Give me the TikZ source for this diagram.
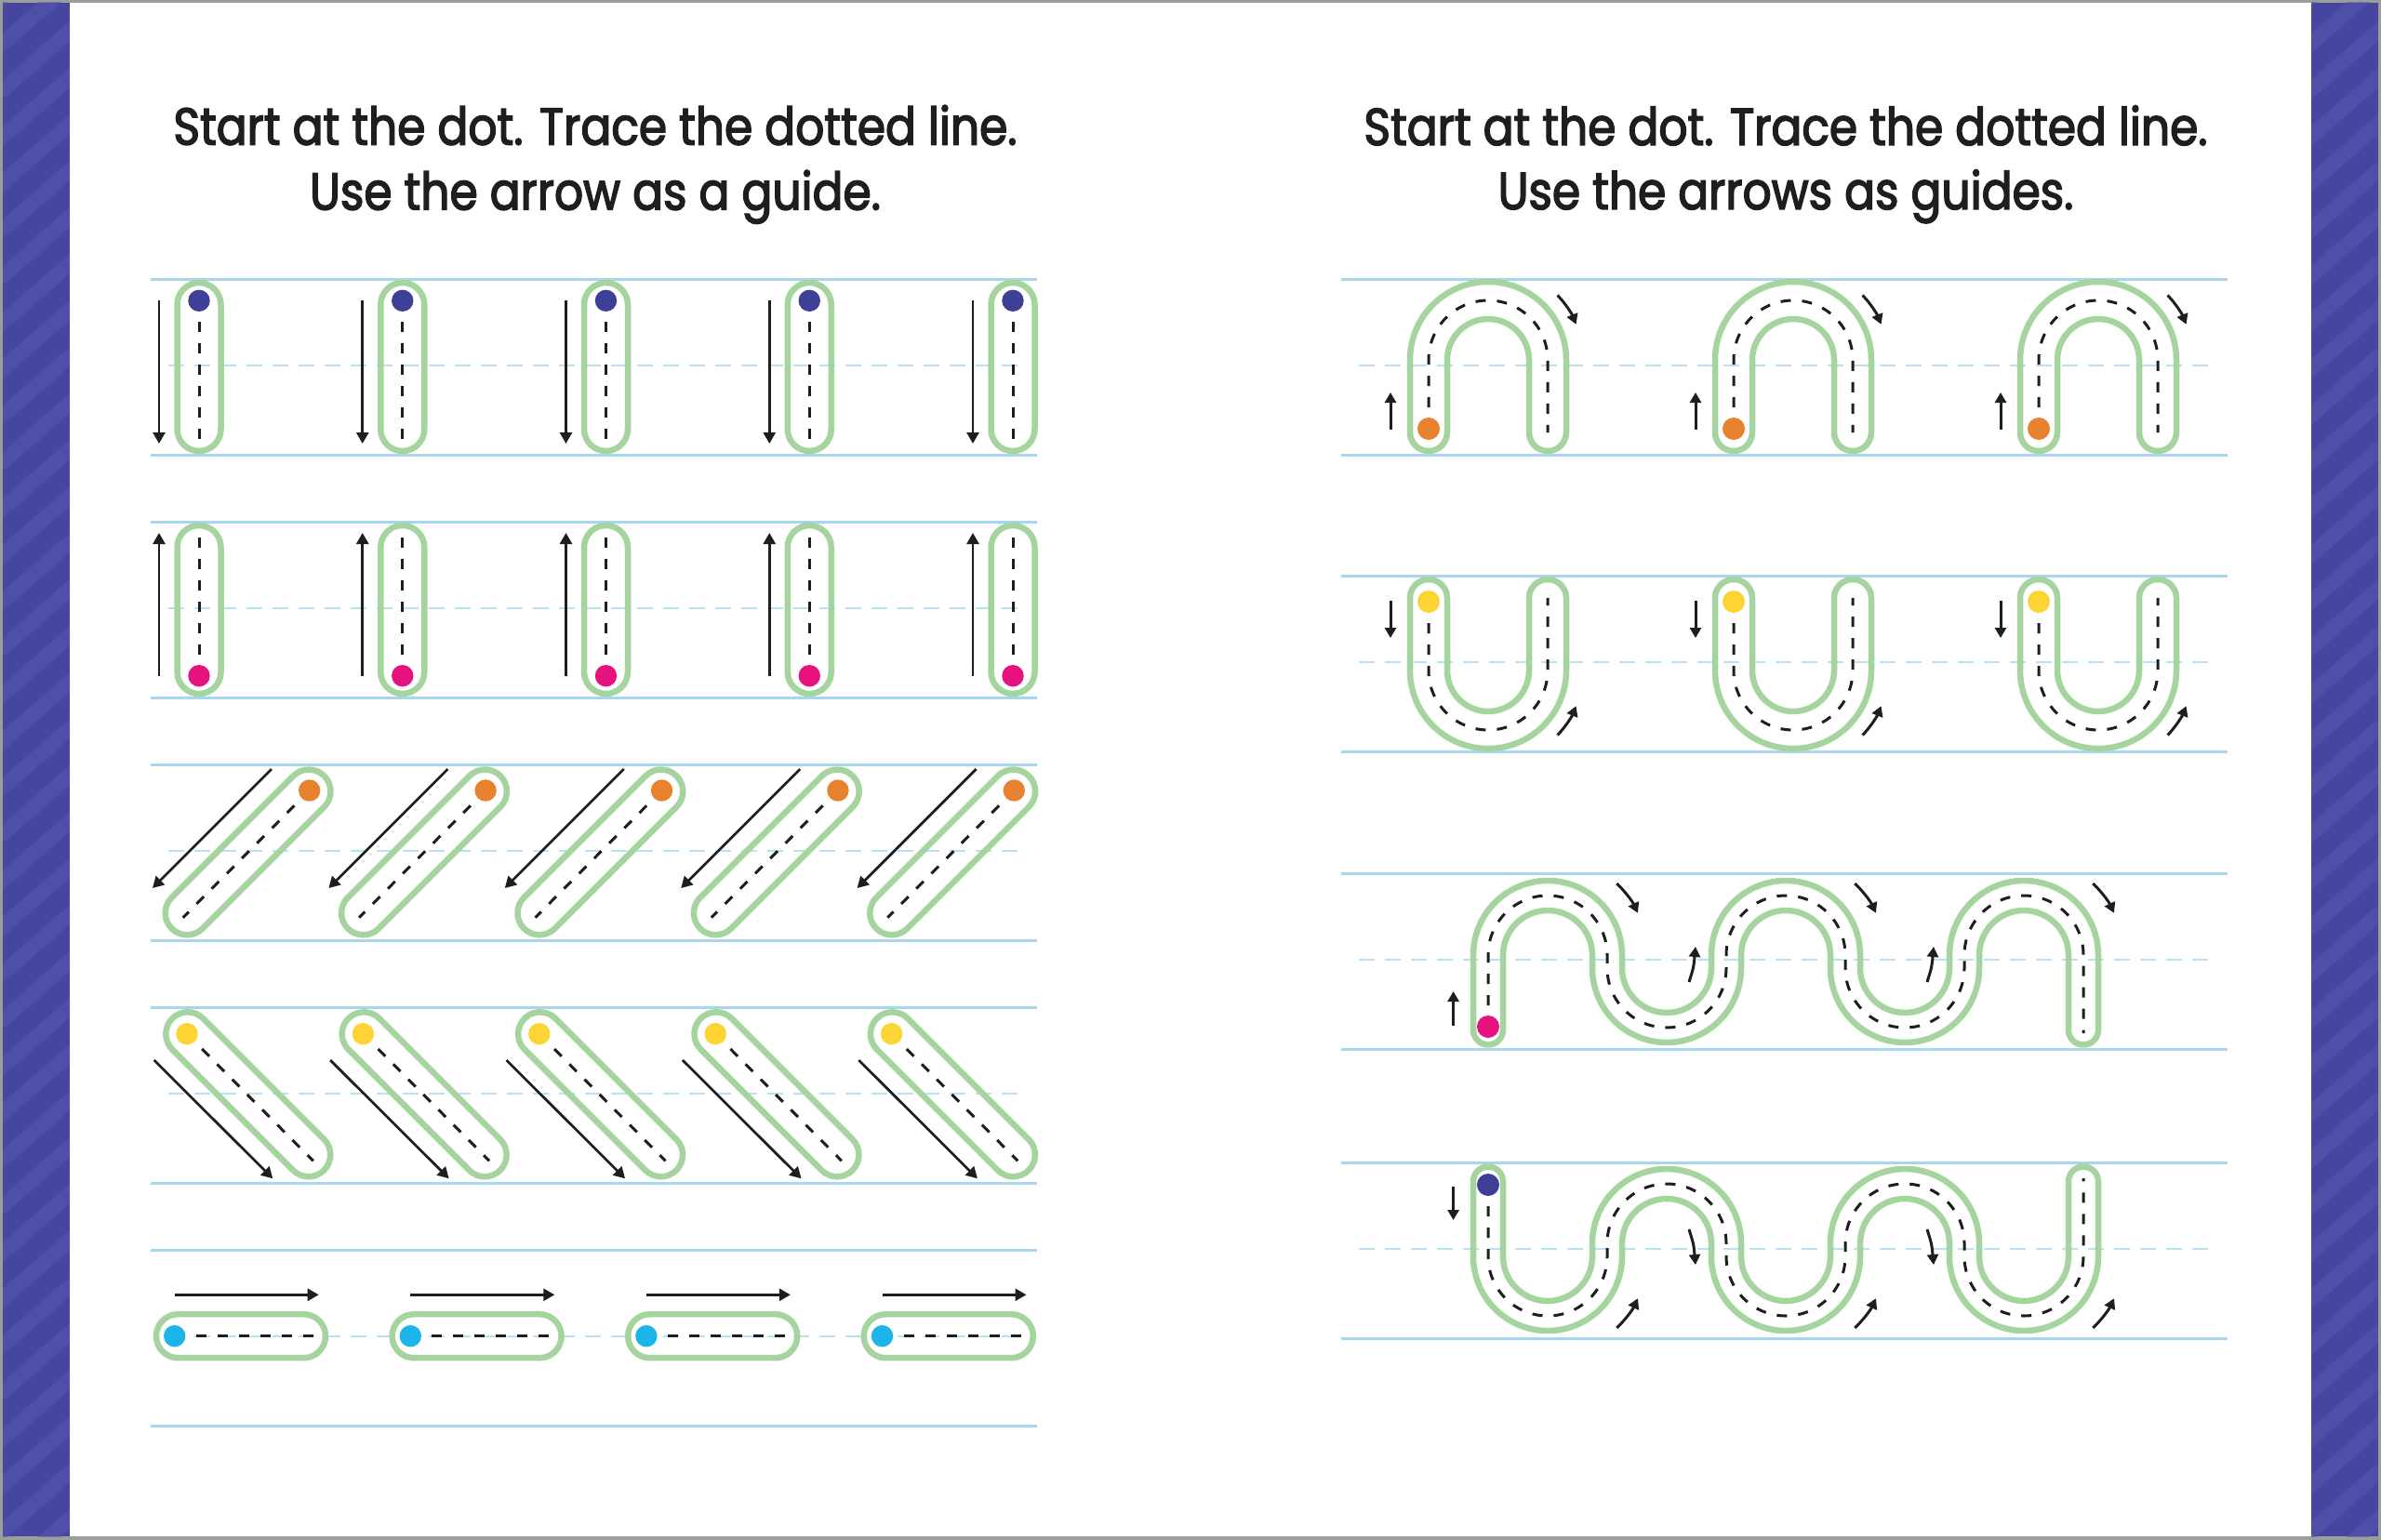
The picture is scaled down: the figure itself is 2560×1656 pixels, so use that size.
\documentclass[tikz,border=0pt]{standalone}
\usepackage{fontspec}
\setmainfont{Poppins}[FakeStretch=0.87,FakeBold=2.6]
\usetikzlibrary{arrows.meta}
\definecolor{rulecol}{HTML}{A6D7EF}
\definecolor{midcol}{HTML}{B8E1F1}
\definecolor{tubecol}{HTML}{A6D49F}
\definecolor{navydot}{HTML}{3E3F97}
\definecolor{magdot}{HTML}{E6137F}
\definecolor{orgdot}{HTML}{E9822F}
\definecolor{yeldot}{HTML}{FCD535}
\definecolor{cyandot}{HTML}{1BB5EA}
\definecolor{purp}{HTML}{4646A0}
\definecolor{purpband}{HTML}{5858B0}
\definecolor{framecol}{HTML}{9C9E9B}
\definecolor{inkcol}{HTML}{1E1E1E}
\tikzset{
  rule/.style={line width=3pt, rulecol},
  midrule/.style={line width=1.6pt, midcol, dash pattern=on 17pt off 11pt},
  tube/.style={line width=6.5pt, tubecol, line join=round},
  trace/.style={line width=3pt, inkcol, dash pattern=on 11pt off 12pt},
  bigarr/.style={line width=2.7pt, inkcol, -{Triangle[length=12pt,width=13pt]}},
  smallarr/.style={line width=3pt, inkcol, -{Triangle[length=11pt,width=12pt]}},
  titletext/.style={font=\fontsize{56}{60}\selectfont, text=inkcol, inner sep=0pt, anchor=base},
  band/.style={line width=16pt, purpband, opacity=0.55}
}
\newcommand{\capsulepath}[4]{%
  \begin{scope}[shift={#1}, rotate=#2]
    \draw[tube] (0,-#4) -- (#3,-#4) arc[start angle=-90, end angle=90, radius=#4]
      -- (0,#4) arc[start angle=90, end angle=270, radius=#4] -- cycle;
  \end{scope}}
% n-shaped tube with left leg at x=#1
\newcommand{\archshape}[2]{%
  \begin{scope}[shift={(#1,0)}]
    \draw[tube] (-20,465) -- (-20,387) arc[start angle=180, end angle=360, radius=84]
      -- (148,465) arc[start angle=0, end angle=180, radius=20]
      -- (108,387) arc[start angle=0, end angle=-180, radius=44]
      -- (20,465) arc[start angle=0, end angle=180, radius=20] -- cycle;
    \draw[trace] (0,461) -- (0,387) arc[start angle=180, end angle=360, radius=64] -- (128,465);
    \fill[#2] (0,461) circle[radius=12];
    \draw[smallarr] (-41,462) -- (-41,422);
    \draw[smallarr] (64,387) ++(-43:102) arc[start angle=-43, end angle=-22, radius=102];
  \end{scope}}
\newcommand{\waveshape}[1]{%
  \draw[tube] (1584,1107.5) -- (1584,1027) arc[start angle=180,end angle=360,radius=80]
    -- (1744,1041) arc[start angle=180,end angle=0,radius=48]
    -- (1840,1027) arc[start angle=180,end angle=360,radius=80]
    -- (2000,1041) arc[start angle=180,end angle=0,radius=48]
    -- (2096,1027) arc[start angle=180,end angle=360,radius=80]
    -- (2256,1107.5) arc[start angle=0,end angle=180,radius=16]
    -- (2224,1027) arc[start angle=0,end angle=-180,radius=48]
    -- (2128,1041) arc[start angle=0,end angle=180,radius=80]
    -- (1968,1027) arc[start angle=0,end angle=-180,radius=48]
    -- (1872,1041) arc[start angle=0,end angle=180,radius=80]
    -- (1712,1027) arc[start angle=0,end angle=-180,radius=48]
    -- (1616,1107.5) arc[start angle=0,end angle=180,radius=16] -- cycle;
  \draw[trace] (1600,1104) -- (1600,1027) arc[start angle=180,end angle=360,radius=64]
    -- (1728,1041) arc[start angle=180,end angle=0,radius=64]
    -- (1856,1027) arc[start angle=180,end angle=360,radius=64]
    -- (1984,1041) arc[start angle=180,end angle=0,radius=64]
    -- (2112,1027) arc[start angle=180,end angle=360,radius=64] -- (2240,1111);
  \fill[#1] (1600,1104) circle[radius=12];
  \draw[smallarr] (1562.6,1102.5) -- (1562.6,1066);
  \foreach \cx in {1664,1920,2176}
    \draw[smallarr] (\cx,1027) ++(-46:107) arc[start angle=-46, end angle=-25, radius=107];
  \foreach \ox in {0,256}
    \draw[smallarr] (1816+\ox,1056) .. controls (1821+\ox,1040) .. (1823+\ox,1018);
}
\begin{document}
\begin{tikzpicture}[x=1pt,y=-1pt]
\useasboundingbox (0,0) rectangle (2560,1656);
% frame and page
\fill[framecol] (0,0) rectangle (2560,1656);
\fill[white] (3,3) rectangle (2557,1652);
% side stripes
\foreach \sx in {3,2485} {
  \fill[purp] (\sx,3) rectangle (\sx+72,1652);
  \begin{scope}
    \clip (\sx,3) rectangle (\sx+72,1652);
    \foreach \k in {-1,...,36}
      \draw[band] (\sx-4,50*\k) -- (\sx+76,50*\k-70);
  \end{scope}
}
% titles
\node[titletext] (tl1) at (640,155.6) {Start at the dot. Trace the dotted line.};
\node[titletext] (tl2) at (640,225.5) {Use the arrow as a guide.};
\node[titletext] (tr1) at (1920,156) {Start at the dot. Trace the dotted line.};
\node[titletext] (tr2) at (1920,225) {Use the arrows as guides.};
% writing lines
\foreach \T in {300,561,822,1083,1344} {
  \draw[rule] (162,\T) -- (1115,\T);
  \draw[rule] (162,\T+189) -- (1115,\T+189);
  \draw[midrule] (181,\T+93) -- (1098,\T+93);
}
\foreach \T in {300,619,939,1250} {
  \draw[rule] (1442,\T) -- (2395,\T);
  \draw[rule] (1442,\T+189) -- (2395,\T+189);
  \draw[midrule] (1461,\T+93) -- (2374,\T+93);
}
% left row 1: vertical down
\foreach \i in {0,...,4} {
  \pgfmathsetmacro\xx{214+218.75*\i}
  \capsulepath{(\xx,327.5)}{-90}{134}{23.5}
  \draw[trace] (\xx,323.3) -- (\xx,476.7);
  \fill[navydot] (\xx,323.3) circle[radius=11.7];
  \draw[bigarr] (\xx-43,323) -- (\xx-43,477);
}
% left row 2: vertical up (mirror of row 1)
\begin{scope}[shift={(0,1050)}, yscale=-1]
\foreach \i in {0,...,4} {
  \pgfmathsetmacro\xx{214+218.75*\i}
  \capsulepath{(\xx,327.5)}{-90}{134}{23.5}
  \draw[trace] (\xx,323.3) -- (\xx,476.7);
  \fill[magdot] (\xx,323.3) circle[radius=11.7];
  \draw[bigarr] (\xx-43,323) -- (\xx-43,477);
}
\end{scope}
% left row 3: diagonal down-left
\foreach \i in {0,...,4} {
  \pgfmathsetmacro\dx{189.4*\i}
  \capsulepath{(332+\dx,851)}{225}{185}{23.5}
  \draw[trace] (332.7+\dx,850) -- (196.7+\dx,986.7);
  \fill[orgdot] (332.7+\dx,850) circle[radius=11.7];
  \draw[bigarr] (292+\dx,827) -- (164+\dx,955);
}
% left row 4: diagonal down-right
\foreach \i in {0,...,4} {
  \pgfmathsetmacro\dx{189.4*\i}
  \capsulepath{(201.8+\dx,1111.8)}{-45}{183.8}{23.5}
  \draw[trace] (201+\dx,1111.7) -- (336.7+\dx,1248.3);
  \fill[yeldot] (201+\dx,1111.7) circle[radius=11.7];
  \draw[bigarr] (165.7+\dx,1140) -- (293.3+\dx,1267.3);
}
% left row 5: horizontal
\foreach \i in {0,...,3} {
  \pgfmathsetmacro\dx{253.6*\i}
  \capsulepath{(191.5+\dx,1436.7)}{0}{135}{23.5}
  \draw[trace] (187.7+\dx,1436.7) -- (342.7+\dx,1436.7);
  \fill[cyandot] (187.7+\dx,1436.7) circle[radius=11.7];
  \draw[bigarr] (187.7+\dx,1392.3) -- (342.7+\dx,1392.3);
}
% right row 1: n shapes
\foreach \xl in {1536,1864,2192} { \archshape{\xl}{orgdot} }
% right row 2: u shapes (mirror)
\begin{scope}[shift={(0,1108)}, yscale=-1]
\foreach \xl in {1536,1864,2192} { \archshape{\xl}{yeldot} }
\end{scope}
% right row 3: wave starting upward
\waveshape{magdot}
% right row 4: wave starting downward (mirror)
\begin{scope}[shift={(0,2378)}, yscale=-1]
\waveshape{navydot}
\end{scope}
\end{tikzpicture}
\end{document}
